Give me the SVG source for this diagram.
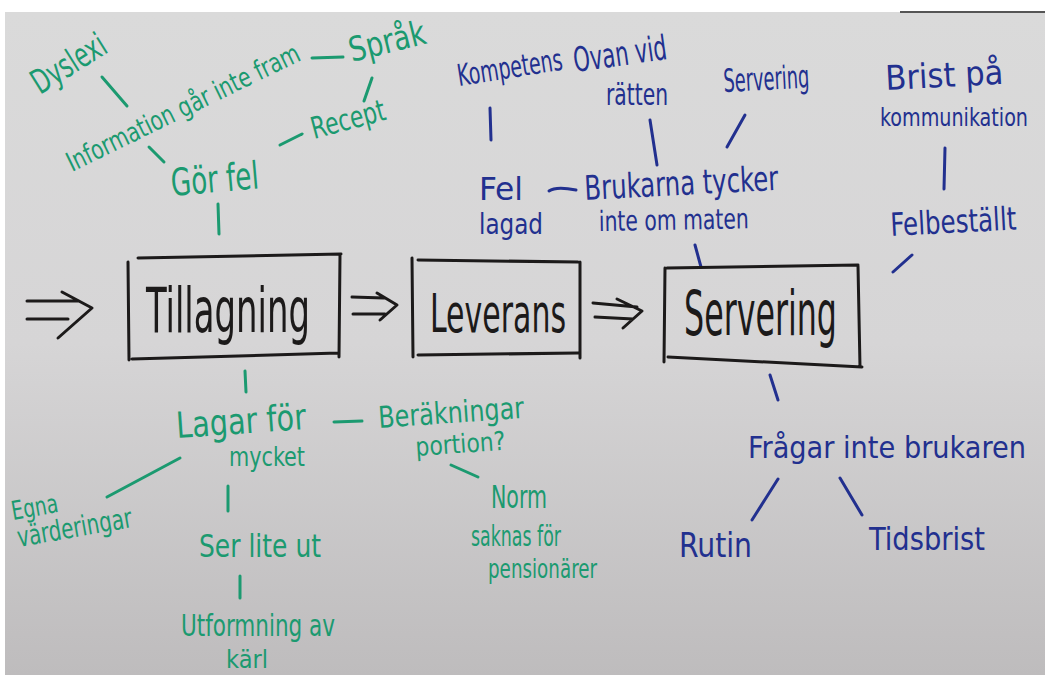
<svg xmlns="http://www.w3.org/2000/svg" width="1045" height="675" viewBox="0 0 1045 675">
<defs>
<linearGradient id="board" x1="0" y1="0" x2="0" y2="1">
<stop offset="0" stop-color="#dadada"/>
<stop offset="0.5" stop-color="#d6d5d6"/>
<stop offset="1" stop-color="#bebcbd"/>
</linearGradient>
<style>
text{font-family:"Liberation Sans Narrow","DejaVu Sans Condensed","Liberation Sans",sans-serif;}
.g{fill:#1b9a70;}
.b{fill:#22308f;}
.k{fill:#1c1a1a;}
.lg{stroke:#1b9a70;stroke-width:3;stroke-linecap:round;fill:none;}
.lb{stroke:#22308f;stroke-width:3;stroke-linecap:round;fill:none;}
.lk{stroke:#1c1a1a;stroke-width:3;stroke-linecap:round;stroke-linejoin:round;fill:none;}
</style>
</defs>
<rect x="0" y="0" width="1045" height="675" fill="#ffffff"/>
<rect x="5" y="12" width="1040" height="663" fill="url(#board)"/>
<line x1="900" y1="12" x2="1045" y2="12" stroke="#555" stroke-width="2"/>

<g id="connectors">
<line class="lg" x1="102" y1="77" x2="127" y2="106"/>
<line class="lg" x1="149" y1="147" x2="164" y2="162"/>
<line class="lg" x1="312" y1="58" x2="343" y2="57"/>
<line class="lg" x1="372" y1="78" x2="364" y2="101"/>
<line class="lg" x1="280" y1="145" x2="302" y2="134"/>
<line class="lg" x1="218" y1="204" x2="219" y2="234"/>
<line class="lg" x1="245" y1="371" x2="246" y2="392"/>
<line class="lg" x1="334" y1="422" x2="362" y2="421"/>
<line class="lg" x1="451" y1="465" x2="478" y2="477"/>
<line class="lg" x1="180" y1="458" x2="107" y2="497"/>
<line class="lg" x1="228" y1="486" x2="228" y2="511"/>
<line class="lg" x1="240" y1="576" x2="240" y2="598"/>
<line class="lb" x1="490" y1="108" x2="491" y2="140"/>
<line class="lb" x1="650" y1="120" x2="657" y2="165"/>
<line class="lb" x1="745" y1="115" x2="727" y2="147"/>
<line class="lb" x1="945" y1="148" x2="944" y2="189"/>
<line class="lb" x1="912" y1="255" x2="893" y2="272"/>
<path class="lb" d="M549 191 Q556 186 576 190"/>
<line class="lb" x1="695" y1="245" x2="701" y2="267"/>
<line class="lb" x1="770" y1="375" x2="778" y2="400"/>
<line class="lb" x1="778" y1="479" x2="752" y2="520"/>
<line class="lb" x1="840" y1="478" x2="862" y2="515"/>
<path class="lk" d="M27 301 L78 301 M27 319 L68 319 M62 292 L92 308 L58 338"/>
<path class="lk" d="M352 297 L384 298 M353 314 L385 314 M377 293 L397 305 L380 320"/>
<path class="lk" d="M593 303 L637 307 M595 317 L633 319 M617 299 L642 311 L623 328"/>
</g>

<g id="tillagning">
<path class="lk" d="M138 258 L341 254 M128 262 L129 360 M340 255 L339 357 M132 359 L338 353"/>
<text class="k" x="146" y="332" font-size="62" textLength="164" lengthAdjust="spacingAndGlyphs">Tillagning</text>
</g>
<g id="leverans">
<path class="lk" d="M418 260 L578 262 M412 258 L413 357 M580 262 L580 358 M418 355 L578 353"/>
<text class="k" x="430" y="332" font-size="54" textLength="136" lengthAdjust="spacingAndGlyphs">Leverans</text>
</g>
<g id="servering">
<path class="lk" d="M667 268 L858 265 M665 268 L664 362 M858 266 L860 367 M668 357 L862 367"/>
<text class="k" x="684" y="335" font-size="62" textLength="153" lengthAdjust="spacingAndGlyphs">Servering</text>
</g>

<g id="dyslexi"><text class="g" x="40" y="95" font-size="34" textLength="82" lengthAdjust="spacingAndGlyphs" transform="rotate(-32 40 95)">Dyslexi</text></g>
<g id="information"><text class="g" x="72" y="172" font-size="27" textLength="256" lengthAdjust="spacingAndGlyphs" transform="rotate(-26 72 172)">Information går inte fram</text></g>
<g id="sprak"><text class="g" x="352" y="62" font-size="34" textLength="78" lengthAdjust="spacingAndGlyphs" transform="rotate(-14 352 62)">Språk</text></g>
<g id="recept"><text class="g" x="314" y="139" font-size="30" textLength="76" lengthAdjust="spacingAndGlyphs" transform="rotate(-15 314 139)">Recept</text></g>
<g id="gorfel"><text class="g" x="172" y="196" font-size="38" textLength="88" lengthAdjust="spacingAndGlyphs" transform="rotate(-5 172 196)">Gör fel</text></g>

<g id="kompetens"><text class="b" x="459" y="86" font-size="30" textLength="106" lengthAdjust="spacingAndGlyphs" transform="rotate(-9 459 86)">Kompetens</text></g>
<g id="ovanvid"><text class="b" x="575" y="72" font-size="34" textLength="94" lengthAdjust="spacingAndGlyphs" transform="rotate(-8 575 72)">Ovan vid</text>
<text class="b" x="606" y="105" font-size="30" textLength="62" lengthAdjust="spacingAndGlyphs">rätten</text></g>
<g id="servering2"><text class="b" x="724" y="92" font-size="32" textLength="86" lengthAdjust="spacingAndGlyphs" transform="rotate(-3 724 92)">Servering</text></g>
<g id="brist"><text class="b" x="886" y="90" font-size="34" textLength="118" lengthAdjust="spacingAndGlyphs" transform="rotate(-3 886 90)">Brist på</text>
<text class="b" x="880" y="126" font-size="24" textLength="148" lengthAdjust="spacingAndGlyphs">kommunikation</text></g>
<g id="felbestallt"><text class="b" x="891" y="236" font-size="32" textLength="126" lengthAdjust="spacingAndGlyphs" transform="rotate(-3 891 236)">Felbeställt</text></g>
<g id="fellagad"><text class="b" x="479" y="200" font-size="32" textLength="44" lengthAdjust="spacingAndGlyphs">Fel</text>
<text class="b" x="479" y="234" font-size="28" textLength="64" lengthAdjust="spacingAndGlyphs">lagad</text></g>
<g id="brukarna"><text class="b" x="585" y="200" font-size="34" textLength="194" lengthAdjust="spacingAndGlyphs" transform="rotate(-3 585 200)">Brukarna tycker</text>
<text class="b" x="599" y="231" font-size="28" textLength="150" lengthAdjust="spacingAndGlyphs" transform="rotate(-1 599 231)">inte om maten</text></g>

<g id="fragar"><text class="b" x="748" y="458" font-size="31" textLength="278" lengthAdjust="spacingAndGlyphs">Frågar inte brukaren</text></g>
<g id="rutin"><text class="b" x="679" y="557" font-size="34" textLength="73" lengthAdjust="spacingAndGlyphs">Rutin</text></g>
<g id="tidsbrist"><text class="b" x="869" y="550" font-size="32" textLength="116" lengthAdjust="spacingAndGlyphs">Tidsbrist</text></g>

<g id="lagar"><text class="g" x="177" y="438" font-size="36" textLength="130" lengthAdjust="spacingAndGlyphs" transform="rotate(-4 177 438)">Lagar för</text>
<text class="g" x="229" y="466" font-size="26" textLength="76" lengthAdjust="spacingAndGlyphs">mycket</text></g>
<g id="berakningar"><text class="g" x="379" y="428" font-size="30" textLength="146" lengthAdjust="spacingAndGlyphs" transform="rotate(-4 379 428)">Beräkningar</text>
<text class="g" x="416" y="456" font-size="26" textLength="90" lengthAdjust="spacingAndGlyphs" transform="rotate(-4 416 456)">portion?</text></g>
<g id="norm"><text class="g" x="491" y="508" font-size="32" textLength="56" lengthAdjust="spacingAndGlyphs">Norm</text>
<text class="g" x="471" y="546" font-size="28" textLength="90" lengthAdjust="spacingAndGlyphs">saknas för</text>
<text class="g" x="488" y="578" font-size="26" textLength="109" lengthAdjust="spacingAndGlyphs">pensionärer</text></g>
<g id="egna"><text class="g" x="13" y="520" font-size="26" textLength="47" lengthAdjust="spacingAndGlyphs" transform="rotate(-10 13 520)">Egna</text>
<text class="g" x="19" y="547" font-size="28" textLength="116" lengthAdjust="spacingAndGlyphs" transform="rotate(-10 19 547)">värderingar</text></g>
<g id="serliteut"><text class="g" x="199" y="557" font-size="32" textLength="122" lengthAdjust="spacingAndGlyphs">Ser lite ut</text></g>
<g id="utformning"><text class="g" x="181" y="636" font-size="30" textLength="154" lengthAdjust="spacingAndGlyphs">Utformning av</text>
<text class="g" x="226" y="668" font-size="24" textLength="42" lengthAdjust="spacingAndGlyphs">kärl</text></g>
</svg>
